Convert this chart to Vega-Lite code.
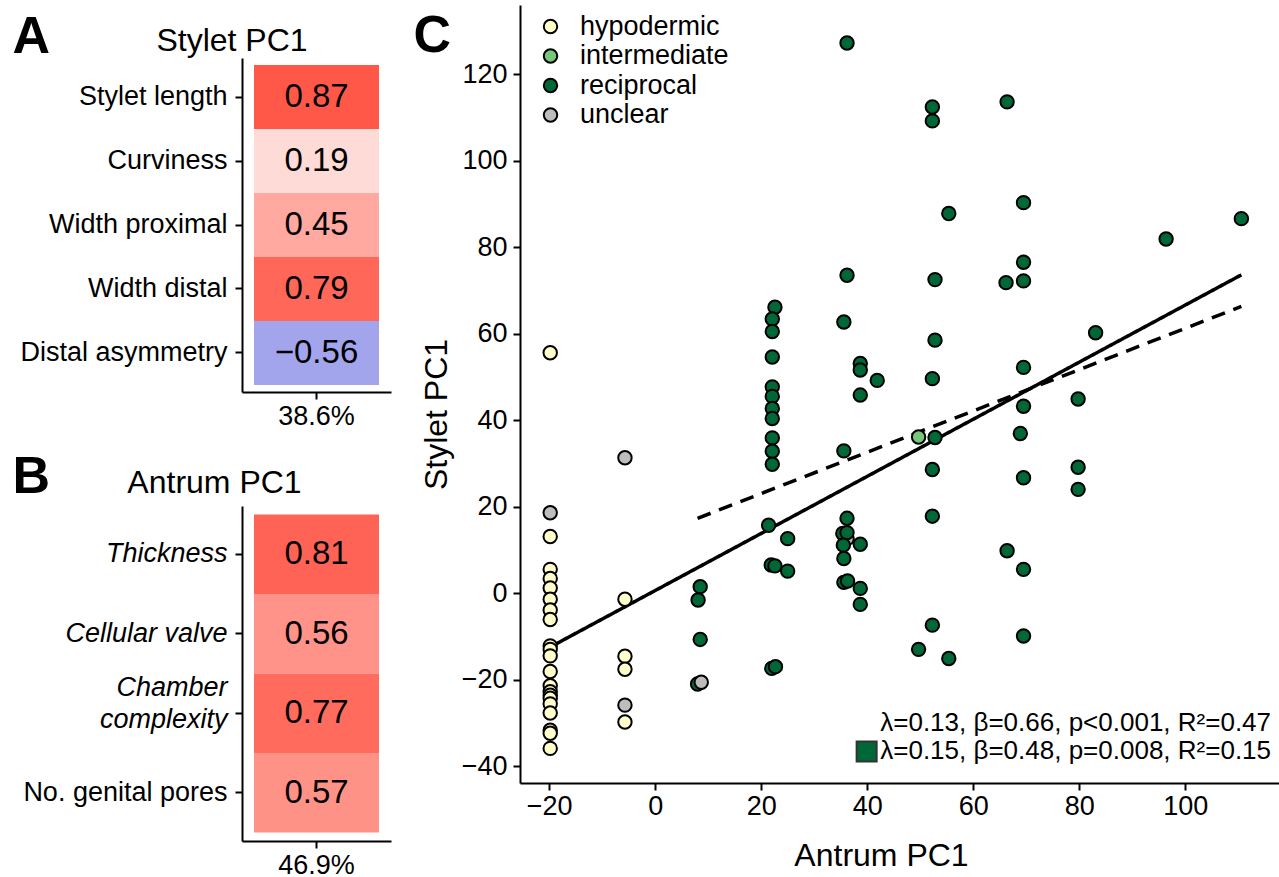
{
  "$schema": "https://vega.github.io/schema/vega-lite/v6.json",
  "background": "white",
  "padding": {"left": 12, "top": 5, "right": 0, "bottom": 0},
  "config": {
    "font": "Liberation Sans",
    "view": {"stroke": null},
    "axis": {"grid": false, "domainColor": "black", "domainWidth": 2, "tickColor": "black", "tickWidth": 2, "tickSize": 7, "labelColor": "black", "titleColor": "black", "labelFont": "Liberation Sans", "titleFont": "Liberation Sans", "labelFontSize": 27, "titleFontWeight": "normal", "labelLimit": 0},
    "title": {"font": "Liberation Sans", "fontWeight": "normal", "color": "black"}
  },
  "columns": 2,
  "align": "none",
  "spacing": 22,
  "resolve": {"scale": {"fill": "independent", "color": "independent"}, "legend": {"fill": "independent", "color": "independent"}},
  "concat": [
    {
      "spacing": 21,
      "vconcat": [
        {
          "width": 149, "height": 387,
          "data": {"values": [
            {"trait": "Stylet length", "loading": 0.87, "pc": "38.6%"},
            {"trait": "Curviness", "loading": 0.19, "pc": "38.6%"},
            {"trait": "Width proximal", "loading": 0.45, "pc": "38.6%"},
            {"trait": "Width distal", "loading": 0.79, "pc": "38.6%"},
            {"trait": "Distal asymmetry", "loading": -0.56, "pc": "38.6%"}
          ]},
          "resolve": {"axis": {"x": "independent"}},
          "layer": [
            {
              "mark": {"type": "rect"},
              "encoding": {
                "x": {"field": "pc", "type": "nominal", "scale": {"paddingInner": 0, "paddingOuter": 0.096}, "axis": {"title": null, "labelAngle": 0, "labelPadding": 4}},
                "y": {"field": "trait", "type": "nominal", "sort": null, "scale": {"range": [53, 387], "paddingInner": 0, "paddingOuter": 0.11}, "axis": {"title": "A", "titleAngle": 0, "titleFontSize": 52, "titleFontWeight": "bold", "titleAlign": "left", "titleBaseline": "alphabetic", "titleX": -230, "titleY": 47, "labelPadding": 8}},
                "color": {"field": "loading", "type": "quantitative", "scale": {"domain": [-1, 0, 1], "range": ["#5B5EDD", "#FFFFFF", "#FF3F2D"], "interpolate": "rgb"}, "legend": null}
              }
            },
            {
              "mark": {"type": "text", "fontSize": 33, "color": "black"},
              "encoding": {
                "x": {"field": "pc", "type": "nominal", "axis": {"orient": "top", "domain": false, "ticks": false, "labels": false, "title": "Stylet PC1", "titleFontSize": 32, "titleAngle": 0, "titleAlign": "center", "titleBaseline": "alphabetic", "titleX": -10.5, "titleY": 45}},
                "y": {"field": "trait", "type": "nominal", "sort": null},
                "text": {"field": "loading", "type": "quantitative", "format": ".2f"}
              }
            }
          ]
        },
        {
          "width": 149, "height": 335,
          "data": {"values": [
            {"trait": "Thickness", "loading": 0.81, "pc": "46.9%"},
            {"trait": "Cellular valve", "loading": 0.56, "pc": "46.9%"},
            {"trait": "Chamber\ncomplexity", "loading": 0.77, "pc": "46.9%"},
            {"trait": "No. genital pores", "loading": 0.57, "pc": "46.9%"}
          ]},
          "resolve": {"axis": {"x": "independent"}},
          "layer": [
            {
              "mark": {"type": "rect"},
              "encoding": {
                "x": {"field": "pc", "type": "nominal", "scale": {"paddingInner": 0, "paddingOuter": 0.096}, "axis": {"title": null, "labelAngle": 0, "labelPadding": 4}},
                "y": {"field": "trait", "type": "nominal", "sort": null, "scale": {"paddingInner": 0, "paddingOuter": 0.107}, "axis": {"title": "B", "titleAngle": 0, "titleFontSize": 52, "titleFontWeight": "bold", "titleAlign": "left", "titleBaseline": "alphabetic", "titleX": -230, "titleY": -14, "labelPadding": 8, "labelExpr": "split(datum.label, '\\n')", "labelLineHeight": 32, "labelOffset": {"condition": {"test": "datum.value === 'Chamber\\ncomplexity'", "value": -25}, "value": 0}, "labelFontStyle": {"condition": {"test": "datum.value === 'No. genital pores'", "value": "normal"}, "value": "italic"}}},
                "color": {"field": "loading", "type": "quantitative", "scale": {"domain": [-1, 0, 1], "range": ["#5B5EDD", "#FFFFFF", "#FF3F2D"], "interpolate": "rgb"}, "legend": null}
              }
            },
            {
              "mark": {"type": "text", "fontSize": 33, "color": "black"},
              "encoding": {
                "x": {"field": "pc", "type": "nominal", "axis": {"orient": "top", "domain": false, "ticks": false, "labels": false, "title": "Antrum PC1", "titleFontSize": 32, "titleAngle": 0, "titleAlign": "center", "titleBaseline": "alphabetic", "titleX": -28, "titleY": -14}},
                "y": {"field": "trait", "type": "nominal", "sort": null},
                "text": {"field": "loading", "type": "quantitative", "format": ".2f"}
              }
            }
          ]
        }
      ]
    },
    {
      "width": 759, "height": 778,
      "resolve": {"axis": {"x": "independent"}},
      "layer": [
        {
          "data": {"values": [
            {"antrum": -20, "stylet": -12.6, "fit": "all"},
            {"antrum": 110.6, "stylet": 73.6, "fit": "all"},
            {"antrum": 8.0, "stylet": 17.3, "fit": "reciprocal"},
            {"antrum": 110.6, "stylet": 66.3, "fit": "reciprocal"}
          ]},
          "mark": {"type": "line", "color": "black", "strokeWidth": 3.5, "strokeCap": "butt"},
          "encoding": {
            "x": {"field": "antrum", "type": "quantitative", "scale": {"domain": [-25.5, 117.7], "nice": false, "zero": false}, "axis": {"values": [-20, 0, 20, 40, 60, 80, 100], "title": "Antrum PC1", "titleFontSize": 32, "labelPadding": 3, "titleX": 361, "titleY": 82, "titleBaseline": "alphabetic"}},
            "y": {"field": "stylet", "type": "quantitative", "scale": {"domain": [-43.9, 136], "nice": false, "zero": false}, "axis": {"values": [-40, -20, 0, 20, 40, 60, 80, 100, 120], "title": "Stylet PC1", "titleFontSize": 32, "labelPadding": 6, "titlePadding": 8, "titleY": 409}},
            "detail": {"field": "fit", "type": "nominal"},
            "strokeDash": {"field": "fit", "type": "nominal", "scale": {"domain": ["all", "reciprocal"], "range": [[1, 0], [14, 9]]}, "legend": null}
          }
        },
        {
          "data": {"values": [
            {"antrum": 36.2, "stylet": 12.6, "mode": "unclear"},
            {"antrum": -19.8, "stylet": 55.6, "mode": "hypodermic"},
            {"antrum": -19.8, "stylet": 13.1, "mode": "hypodermic"},
            {"antrum": -19.8, "stylet": 5.5, "mode": "hypodermic"},
            {"antrum": -19.8, "stylet": 3.4, "mode": "hypodermic"},
            {"antrum": -19.8, "stylet": 1.2, "mode": "hypodermic"},
            {"antrum": -19.8, "stylet": -1.4, "mode": "hypodermic"},
            {"antrum": -19.8, "stylet": -3.9, "mode": "hypodermic"},
            {"antrum": -19.8, "stylet": -6.1, "mode": "hypodermic"},
            {"antrum": -19.8, "stylet": -12.2, "mode": "hypodermic"},
            {"antrum": -19.8, "stylet": -13.0, "mode": "hypodermic"},
            {"antrum": -19.8, "stylet": -14.5, "mode": "hypodermic"},
            {"antrum": -19.8, "stylet": -18.1, "mode": "hypodermic"},
            {"antrum": -19.8, "stylet": -21.4, "mode": "hypodermic"},
            {"antrum": -19.8, "stylet": -22.8, "mode": "hypodermic"},
            {"antrum": -19.8, "stylet": -23.6, "mode": "hypodermic"},
            {"antrum": -19.8, "stylet": -24.3, "mode": "hypodermic"},
            {"antrum": -19.8, "stylet": -25.6, "mode": "hypodermic"},
            {"antrum": -19.8, "stylet": -27.7, "mode": "hypodermic"},
            {"antrum": -19.8, "stylet": -31.7, "mode": "hypodermic"},
            {"antrum": -19.8, "stylet": -32.4, "mode": "hypodermic"},
            {"antrum": -19.8, "stylet": -35.9, "mode": "hypodermic"},
            {"antrum": -5.7, "stylet": -1.4, "mode": "hypodermic"},
            {"antrum": -5.7, "stylet": -14.6, "mode": "hypodermic"},
            {"antrum": -5.7, "stylet": -17.6, "mode": "hypodermic"},
            {"antrum": -5.7, "stylet": -29.8, "mode": "hypodermic"},
            {"antrum": 49.7, "stylet": 36.1, "mode": "intermediate"},
            {"antrum": 8.5, "stylet": 1.5, "mode": "reciprocal"},
            {"antrum": 8.1, "stylet": -1.6, "mode": "reciprocal"},
            {"antrum": 8.5, "stylet": -10.7, "mode": "reciprocal"},
            {"antrum": 8.0, "stylet": -21.0, "mode": "reciprocal"},
            {"antrum": 22.6, "stylet": 66.1, "mode": "reciprocal"},
            {"antrum": 22.1, "stylet": 63.4, "mode": "reciprocal"},
            {"antrum": 22.1, "stylet": 60.5, "mode": "reciprocal"},
            {"antrum": 22.1, "stylet": 54.6, "mode": "reciprocal"},
            {"antrum": 22.1, "stylet": 47.7, "mode": "reciprocal"},
            {"antrum": 22.1, "stylet": 45.5, "mode": "reciprocal"},
            {"antrum": 22.1, "stylet": 42.7, "mode": "reciprocal"},
            {"antrum": 22.1, "stylet": 40.4, "mode": "reciprocal"},
            {"antrum": 22.1, "stylet": 35.9, "mode": "reciprocal"},
            {"antrum": 22.1, "stylet": 32.8, "mode": "reciprocal"},
            {"antrum": 22.1, "stylet": 29.8, "mode": "reciprocal"},
            {"antrum": 21.4, "stylet": 15.7, "mode": "reciprocal"},
            {"antrum": 25.0, "stylet": 12.6, "mode": "reciprocal"},
            {"antrum": 21.9, "stylet": 6.5, "mode": "reciprocal"},
            {"antrum": 22.6, "stylet": 6.3, "mode": "reciprocal"},
            {"antrum": 25.0, "stylet": 5.1, "mode": "reciprocal"},
            {"antrum": 22.0, "stylet": -17.4, "mode": "reciprocal"},
            {"antrum": 22.7, "stylet": -17.0, "mode": "reciprocal"},
            {"antrum": 36.2, "stylet": 127.2, "mode": "reciprocal"},
            {"antrum": 36.2, "stylet": 73.5, "mode": "reciprocal"},
            {"antrum": 35.6, "stylet": 62.7, "mode": "reciprocal"},
            {"antrum": 35.6, "stylet": 32.9, "mode": "reciprocal"},
            {"antrum": 36.2, "stylet": 17.3, "mode": "reciprocal"},
            {"antrum": 35.4, "stylet": 13.8, "mode": "reciprocal"},
            {"antrum": 36.2, "stylet": 14.0, "mode": "reciprocal"},
            {"antrum": 35.5, "stylet": 11.1, "mode": "reciprocal"},
            {"antrum": 35.6, "stylet": 8.0, "mode": "reciprocal"},
            {"antrum": 35.6, "stylet": 2.5, "mode": "reciprocal"},
            {"antrum": 36.3, "stylet": 2.8, "mode": "reciprocal"},
            {"antrum": 38.7, "stylet": 53.1, "mode": "reciprocal"},
            {"antrum": 38.7, "stylet": 51.6, "mode": "reciprocal"},
            {"antrum": 41.9, "stylet": 49.2, "mode": "reciprocal"},
            {"antrum": 38.7, "stylet": 45.8, "mode": "reciprocal"},
            {"antrum": 38.7, "stylet": 11.3, "mode": "reciprocal"},
            {"antrum": 38.7, "stylet": 1.1, "mode": "reciprocal"},
            {"antrum": 38.7, "stylet": -2.6, "mode": "reciprocal"},
            {"antrum": 52.3, "stylet": 112.4, "mode": "reciprocal"},
            {"antrum": 52.3, "stylet": 109.2, "mode": "reciprocal"},
            {"antrum": 55.4, "stylet": 87.8, "mode": "reciprocal"},
            {"antrum": 52.8, "stylet": 72.5, "mode": "reciprocal"},
            {"antrum": 52.8, "stylet": 58.5, "mode": "reciprocal"},
            {"antrum": 52.3, "stylet": 49.6, "mode": "reciprocal"},
            {"antrum": 52.8, "stylet": 36.0, "mode": "reciprocal"},
            {"antrum": 52.3, "stylet": 28.6, "mode": "reciprocal"},
            {"antrum": 52.3, "stylet": 17.8, "mode": "reciprocal"},
            {"antrum": 52.3, "stylet": -7.4, "mode": "reciprocal"},
            {"antrum": 49.7, "stylet": -13.0, "mode": "reciprocal"},
            {"antrum": 55.4, "stylet": -15.1, "mode": "reciprocal"},
            {"antrum": 66.4, "stylet": 113.6, "mode": "reciprocal"},
            {"antrum": 69.5, "stylet": 90.3, "mode": "reciprocal"},
            {"antrum": 69.5, "stylet": 76.5, "mode": "reciprocal"},
            {"antrum": 66.2, "stylet": 71.8, "mode": "reciprocal"},
            {"antrum": 69.5, "stylet": 72.2, "mode": "reciprocal"},
            {"antrum": 69.5, "stylet": 52.2, "mode": "reciprocal"},
            {"antrum": 69.5, "stylet": 43.2, "mode": "reciprocal"},
            {"antrum": 68.9, "stylet": 36.9, "mode": "reciprocal"},
            {"antrum": 69.5, "stylet": 26.7, "mode": "reciprocal"},
            {"antrum": 66.4, "stylet": 9.8, "mode": "reciprocal"},
            {"antrum": 69.5, "stylet": 5.5, "mode": "reciprocal"},
            {"antrum": 69.5, "stylet": -9.9, "mode": "reciprocal"},
            {"antrum": 79.8, "stylet": 44.9, "mode": "reciprocal"},
            {"antrum": 79.8, "stylet": 29.1, "mode": "reciprocal"},
            {"antrum": 79.8, "stylet": 24.0, "mode": "reciprocal"},
            {"antrum": 83.1, "stylet": 60.2, "mode": "reciprocal"},
            {"antrum": 96.4, "stylet": 81.9, "mode": "reciprocal"},
            {"antrum": 110.6, "stylet": 86.6, "mode": "reciprocal"},
            {"antrum": -19.8, "stylet": 18.6, "mode": "unclear"},
            {"antrum": -5.7, "stylet": 31.3, "mode": "unclear"},
            {"antrum": -5.7, "stylet": -25.9, "mode": "unclear"},
            {"antrum": 8.7, "stylet": -20.6, "mode": "unclear"}
          ]},
          "mark": {"type": "circle", "size": 180, "stroke": "black", "strokeWidth": 2, "opacity": 1},
          "encoding": {
            "x": {"field": "antrum", "type": "quantitative", "axis": null},
            "y": {"field": "stylet", "type": "quantitative"},
            "fill": {"field": "mode", "type": "nominal", "sort": null, "scale": {"domain": ["hypodermic", "intermediate", "reciprocal", "unclear"], "range": ["#FFFFCC", "#78C679", "#006837", "#BDBDBD"]}, "legend": {"title": null, "orient": "none", "legendX": 17, "legendY": 8, "labelFontSize": 27, "labelColor": "black", "labelFont": "Liberation Sans", "symbolType": "circle", "symbolSize": 180, "symbolStrokeColor": "black", "symbolStrokeWidth": 2, "rowPadding": 1.5, "labelOffset": 16, "padding": 0}}
          }
        },
        {
          "data": {"values": [
            {"antrum": 116.2, "stylet": -30.0, "label": "λ=0.13, β=0.66, p<0.001, R²=0.47"},
            {"antrum": 116.2, "stylet": -36.6, "label": "λ=0.15, β=0.48, p=0.008, R²=0.15"}
          ]},
          "mark": {"type": "text", "align": "right", "baseline": "middle", "fontSize": 26, "color": "black"},
          "encoding": {
            "x": {"field": "antrum", "type": "quantitative", "axis": null},
            "y": {"field": "stylet", "type": "quantitative"},
            "text": {"field": "label", "type": "nominal"}
          }
        },
        {
          "data": {"values": [{"antrum": 39.9, "stylet": -36.6}]},
          "mark": {"type": "point", "shape": "square", "filled": true, "size": 400, "color": "#006837", "stroke": "#333333", "strokeWidth": 2, "opacity": 1},
          "encoding": {
            "x": {"field": "antrum", "type": "quantitative", "axis": {"orient": "top", "domain": false, "ticks": false, "labels": false, "title": "C", "titleAngle": 0, "titleFontSize": 52, "titleFontWeight": "bold", "titleAlign": "left", "titleBaseline": "alphabetic", "titleX": -107, "titleY": 46}},
            "y": {"field": "stylet", "type": "quantitative"}
          }
        }
      ]
    }
  ]
}
